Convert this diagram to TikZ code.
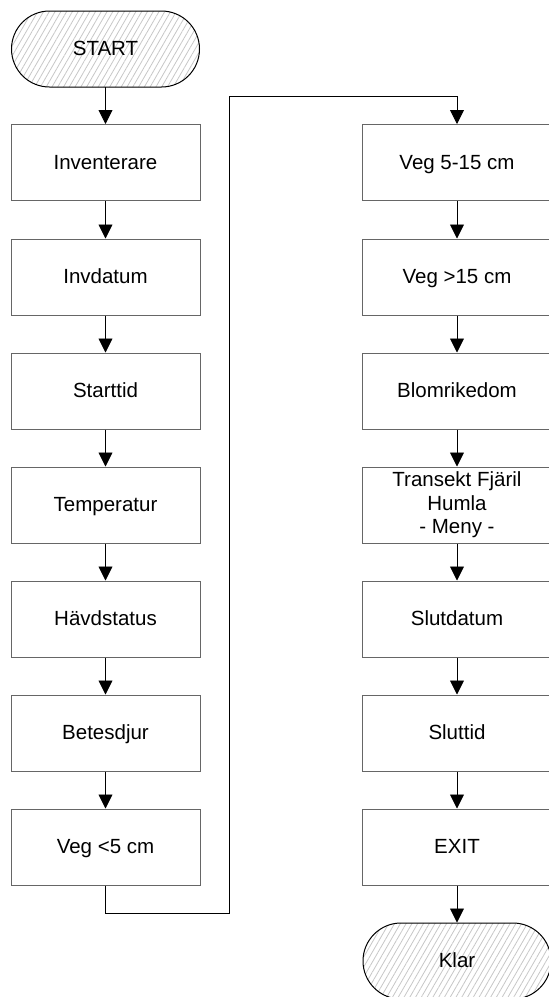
\documentclass[tikz,border=0pt]{standalone}
\usepackage{fontspec}
\setmainfont{Liberation Sans}
\usetikzlibrary{arrows.meta,patterns.meta}
\begin{document}
\begin{tikzpicture}[x=1pt,y=-1pt,
  every node/.style={font=\fontsize{20.5}{23.5}\selectfont, align=center, inner sep=0pt},
  stepbox/.style={draw=black!60, line width=1pt, fill=white, minimum width=189pt, minimum height=76pt},
  one/.style={text height=15pt, text depth=1.5pt},
  term/.style={draw=black, line width=1pt, minimum width=188pt, minimum height=76pt, rounded corners=38pt,
    pattern={Lines[angle=60,distance=5pt,line width=0.8pt]}, pattern color=black!22},
  flow/.style={draw=black, line width=0.9pt, -{Triangle[width=14pt,length=14pt]}}
]
\useasboundingbox (0,0) rectangle (549,997);
% left column
\node[term] (start) at (105.5,49) {};
\node[one] at (start) {START};
\node[stepbox,one] (inv) at (105.5,162.5) {Inventerare};
\node[stepbox,one] (invd) at (105.5,277) {Invdatum};
\node[stepbox,one] (stt) at (105.5,391) {Starttid};
\node[stepbox,one] (temp) at (105.5,505) {Temperatur};
\node[stepbox,one] (havd) at (105.5,619) {Hävdstatus};
\node[stepbox,one] (bet) at (105.5,733) {Betesdjur};
\node[stepbox,one] (veg5) at (105.5,847) {Veg <5 cm};
% right column
\node[stepbox,one] (veg515) at (457,162.5) {Veg 5-15 cm};
\node[stepbox,one] (veg15) at (457,277) {Veg >15 cm};
\node[stepbox,one] (blom) at (457,391) {Blomrikedom};
\node[stepbox] (trans) at (457,505) {Transekt Fjäril\\Humla\\- Meny -};
\node[stepbox,one] (slutd) at (457,619) {Slutdatum};
\node[stepbox,one] (slutt) at (457,733) {Sluttid};
\node[stepbox,one] (exit) at (457,847) {EXIT};
\node[term] (klar) at (457,961) {};
\node[one] at (klar) {Klar};
% connectors
\draw[flow] (start) -- (inv);
\draw[flow] (inv) -- (invd);
\draw[flow] (invd) -- (stt);
\draw[flow] (stt) -- (temp);
\draw[flow] (temp) -- (havd);
\draw[flow] (havd) -- (bet);
\draw[flow] (bet) -- (veg5);
\coordinate (c1) at (105.5,913);
\coordinate (c2) at (229,913);
\coordinate (c3) at (229,96);
\coordinate (c4) at (457,96);
\draw[flow] (veg5.south) -- (c1) -- (c2) -- (c3) -- (c4) -- (veg515.north);
\draw[flow] (veg515) -- (veg15);
\draw[flow] (veg15) -- (blom);
\draw[flow] (blom) -- (trans);
\draw[flow] (trans) -- (slutd);
\draw[flow] (slutd) -- (slutt);
\draw[flow] (slutt) -- (exit);
\draw[flow] (exit) -- (klar);
\end{tikzpicture}
\end{document}
